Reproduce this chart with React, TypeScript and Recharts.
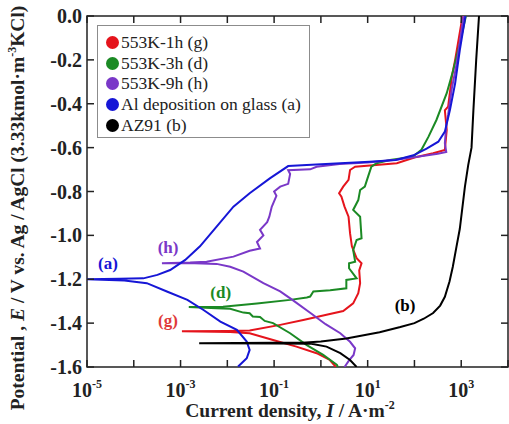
import { LineChart, Line, XAxis, YAxis, Legend, ReferenceArea, ReferenceDot } from "recharts";

// [current density A/m2, potential V]
const RED_G: [number, number][] = [
  [2.1, -1.6], [1.55, -1.568], [0.81, -1.537], [0.3, -1.507], [0.095, -1.477], [0.03, -1.446], [0.0115, -1.44], [0.00107, -1.437],
  [0.01, -1.436], [0.03, -1.434], [0.135, -1.408], [0.42, -1.386], [1.32, -1.362], [3.0, -1.345], [4.9, -1.31], [6.3, -1.264],
  [6.9, -1.218], [6.6, -1.16], [7.4, -1.127], [5.8, -1.104], [4.6, -1.05], [4.2, -0.99], [3.9, -0.915], [3.2, -0.869],
  [2.75, -0.824], [2.45, -0.808], [3.0, -0.778], [3.9, -0.747], [4.2, -0.702], [5.4, -0.687], [42, -0.671], [100, -0.645],
  [251, -0.626], [447, -0.611], [490, -0.52], [447, -0.43], [525, -0.413], [631, -0.277], [741, -0.2], [891, -0.1], [1070, 0],
];

const GREEN_D: [number, number][] = [
  [2.3, -1.6], [2.2, -1.59], [1.12, -1.545], [0.5, -1.5], [0.22, -1.446], [0.095, -1.4], [0.063, -1.39], [0.05, -1.372],
  [0.035, -1.37], [0.03, -1.355], [0.022, -1.352], [0.0115, -1.335], [0.0059, -1.332], [0.0015, -1.327],
  [0.0081, -1.325], [0.043, -1.31], [0.22, -1.294], [0.5, -1.283], [0.59, -1.279], [0.69, -1.256], [1.58, -1.25],
  [3.5, -1.241], [3.5, -1.203], [5.8, -1.196], [4.0, -1.15], [4.0, -1.127], [5.4, -1.12], [4.9, -1.067], [5.8, -1.021],
  [7.4, -1.013], [6.9, -0.915], [4.9, -0.884], [6.3, -0.839], [6.9, -0.793], [8.7, -0.778], [10.2, -0.732], [12, -0.687],
  [15.5, -0.671], [30, -0.656], [93, -0.641], [141, -0.61], [200, -0.55], [295, -0.474], [490, -0.352], [676, -0.246],
  [933, -0.125], [1260, 0],
];

const PURPLE_H: [number, number][] = [
  [3.2, -1.6], [4.0, -1.57], [5.0, -1.545], [5.4, -1.515], [4.2, -1.485], [2.6, -1.446], [1.26, -1.405], [0.63, -1.357],
  [0.25, -1.295], [0.135, -1.255], [0.059, -1.218], [0.022, -1.165], [0.0115, -1.143], [0.0059, -1.13], [0.002, -1.127],
  [0.0004, -1.127], [0.0016, -1.124], [0.0036, -1.12], [0.0135, -1.097], [0.03, -1.07], [0.05, -1.06], [0.043, -1.03],
  [0.059, -1.0], [0.05, -0.975], [0.071, -0.94], [0.079, -0.915], [0.089, -0.87], [0.112, -0.82], [0.1, -0.8],
  [0.135, -0.778], [0.2, -0.765], [0.22, -0.72], [0.2, -0.703], [0.59, -0.699], [0.81, -0.687], [2.5, -0.675],
  [10, -0.668], [40, -0.655], [126, -0.64], [316, -0.628], [479, -0.62], [447, -0.58], [479, -0.5], [525, -0.45],
  [631, -0.33], [794, -0.22], [933, -0.12], [1120, 0],
];

const BLUE_A: [number, number][] = [
  [0.017, -1.598], [0.026, -1.56], [0.03, -1.522], [0.026, -1.484], [0.016, -1.431], [0.0071, -1.393], [0.0031, -1.34],
  [0.0014, -1.294], [0.00051, -1.256], [0.00019, -1.218], [0.000063, -1.206], [0.00001, -1.2],
  [0.00005, -1.198], [0.00016, -1.196], [0.00032, -1.18], [0.0006, -1.158], [0.00126, -1.112], [0.0026, -1.05],
  [0.0059, -0.96], [0.0135, -0.869], [0.03, -0.808], [0.081, -0.74], [0.2, -0.684], [0.5, -0.679], [2.6, -0.671],
  [11, -0.664], [40, -0.656], [95, -0.635], [182, -0.605], [324, -0.573], [447, -0.527], [575, -0.428], [741, -0.307],
  [933, -0.155], [1230, 0],
];

const BLACK_B: [number, number][] = [
  [5.8, -1.6], [4.2, -1.568], [2.6, -1.537], [1.32, -1.507], [0.63, -1.494], [0.1, -1.493], [0.0025, -1.492],
  [0.1, -1.49], [0.4, -1.489], [1, -1.484], [3.5, -1.47], [10, -1.452], [18, -1.442], [50, -1.418], [100, -1.4],
  [158, -1.38], [251, -1.354], [355, -1.32], [447, -1.28], [562, -1.21], [661, -1.143], [794, -1.05], [933, -0.97],
  [1200, -0.778], [1410, -0.68], [1660, -0.6], [1820, -0.43], [2090, -0.2], [2400, 0],
];

const SERIES_NAMES = ["553K-1h (g)", "553K-3h (d)", "553K-9h (h)", "Al deposition on glass (a)", "AZ91 (b)"];
const X_TICKS = [1e-5, 1e-4, 1e-3, 1e-2, 1e-1, 1, 10, 100, 1e3, 1e4];
const Y_TICKS = [0, -0.2, -0.4, -0.6, -0.8, -1.0, -1.2, -1.4, -1.6];
const CURVE_TAGS = ["(a)", "(h)", "(d)", "(g)", "(b)"];

const RED = "#e5141c";
const GREEN = "#1b8a24";
const PURPLE = "#7a38c8";
const BLUE = "#1616d6";
const BLACK = "#000000";
const FONT = '"Liberation Serif", "Times New Roman", serif';
const INK = "#222";

const PLOT = { left: 87, top: 16, right: 508, bottom: 367 };

const toRows = (pts: [number, number][]) => pts.map(([i, e]) => ({ i, e }));

const XTick = (props: any) => {
  const { x, payload } = props;
  const exp = Math.round(Math.log10(payload.value));
  return (
    <g>
      <line x1={x} x2={x} y1={PLOT.bottom} y2={PLOT.bottom - 7} stroke={INK} strokeWidth={1.5} />
      <line x1={x} x2={x} y1={PLOT.top} y2={PLOT.top + 7} stroke={INK} strokeWidth={1.5} />
      {exp % 2 !== 0 && (
        <text x={x} y={397} textAnchor="middle" fontFamily={FONT} fontWeight="bold" fontSize={20} fill={INK}>
          10<tspan dy={-9} fontSize={12}>{exp}</tspan>
        </text>
      )}
    </g>
  );
};

const YTick = (props: any) => {
  const { y, payload } = props;
  return (
    <g>
      <line x1={PLOT.left} x2={PLOT.left + 7} y1={y} y2={y} stroke={INK} strokeWidth={1.5} />
      <line x1={PLOT.right} x2={PLOT.right - 7} y1={y} y2={y} stroke={INK} strokeWidth={1.5} />
      <text x={PLOT.left - 5} y={y} dy={7} textAnchor="end" fontFamily={FONT} fontWeight="bold" fontSize={20} fill={INK}>
        {payload.value.toFixed(1)}
      </text>
    </g>
  );
};

const XTitle = () => (
  <text x={290} y={417} textAnchor="middle" fontFamily={FONT} fontWeight="bold" fontSize={19.5} fill={INK}>
    Current density,  <tspan fontStyle="italic">I</tspan> / A·m<tspan dy={-8} fontSize={12}>-2</tspan>
  </text>
);

const YTitle = () => (
  <text transform="translate(24,208) rotate(-90)" textAnchor="middle" fontFamily={FONT} fontWeight="bold" fontSize={19.5} fill={INK}>
    Potential , <tspan fontStyle="italic">E</tspan> / V vs. Ag / AgCl (3.33kmol·m<tspan dy={-8} fontSize={12}>-3</tspan>
    <tspan dy={8}>KCl)</tspan>
  </text>
);

const LegendBox = (props: any) => {
  const items = [...(props.payload ?? [])].sort(
    (a: any, b: any) => SERIES_NAMES.indexOf(a.value) - SERIES_NAMES.indexOf(b.value),
  );
  return (
    <div style={{ boxSizing: "border-box", width: 213, height: 113, border: "1px solid #8c8c8c", background: "#fff", padding: "6px 0 0 8px", fontFamily: FONT, fontSize: 17.5, color: INK }}>
      {items.map((p: any) => (
        <div key={p.value} style={{ display: "flex", alignItems: "center", height: 20.7, whiteSpace: "nowrap" }}>
          <span style={{ display: "inline-block", width: 13, height: 13, borderRadius: "50%", background: p.color, marginRight: 2 }} />
          {p.value}
        </div>
      ))}
    </div>
  );
};

const tagLabel = (text: string, color: string) => ({
  value: text, position: "center" as const, fill: color, fontWeight: "bold", fontSize: 17, fontFamily: FONT,
});

export default function App() {
  return (
    <div style={{ position: "absolute", left: 0, top: 0, width: 509, height: 424, background: "#fff" }}>
      <LineChart width={509} height={424} margin={{ top: 16, right: 1, bottom: 0, left: 0 }}>
        <XAxis dataKey="i" type="number" scale="log" domain={[1e-5, 1e4]} ticks={X_TICKS} interval={0} allowDataOverflow
          height={57} tick={XTick} tickLine={false} axisLine={false} label={XTitle} />
        <YAxis type="number" domain={[-1.6, 0]} ticks={Y_TICKS} interval={0} allowDataOverflow width={87}
          tick={YTick} tickLine={false} axisLine={false} label={YTitle} />
        <Line data={toRows(RED_G)} dataKey="e" name={SERIES_NAMES[0]} stroke={RED} strokeWidth={2} dot={false} isAnimationActive={false} />
        <Line data={toRows(GREEN_D)} dataKey="e" name={SERIES_NAMES[1]} stroke={GREEN} strokeWidth={2} dot={false} isAnimationActive={false} />
        <Line data={toRows(PURPLE_H)} dataKey="e" name={SERIES_NAMES[2]} stroke={PURPLE} strokeWidth={2} dot={false} isAnimationActive={false} />
        <Line data={toRows(BLUE_A)} dataKey="e" name={SERIES_NAMES[3]} stroke={BLUE} strokeWidth={2} dot={false} isAnimationActive={false} />
        <Line data={toRows(BLACK_B)} dataKey="e" name={SERIES_NAMES[4]} stroke={BLACK} strokeWidth={2} dot={false} isAnimationActive={false} />
        <ReferenceArea x1={1e-5} x2={1e4} y1={-1.6} y2={0} fill="none" stroke={INK} strokeWidth={1.5} />
        <ReferenceDot x={2.8e-5} y={-1.126} r={1} fill="none" stroke="none" label={tagLabel(CURVE_TAGS[0], BLUE)} />
        <ReferenceDot x={5.4e-4} y={-1.053} r={1} fill="none" stroke="none" label={tagLabel(CURVE_TAGS[1], PURPLE)} />
        <ReferenceDot x={7.2e-3} y={-1.258} r={1} fill="none" stroke="none" label={tagLabel(CURVE_TAGS[2], GREEN)} />
        <ReferenceDot x={5.4e-4} y={-1.386} r={1} fill="none" stroke="none" label={tagLabel(CURVE_TAGS[3], "#e03a3a")} />
        <ReferenceDot x={63} y={-1.317} r={1} fill="none" stroke="none" label={tagLabel(CURVE_TAGS[4], BLACK)} />
        <Legend content={LegendBox} layout="vertical" align="center" verticalAlign="middle"
          wrapperStyle={{ left: 97, top: 25, width: 213, height: 113 }} />
      </LineChart>
    </div>
  );
}
